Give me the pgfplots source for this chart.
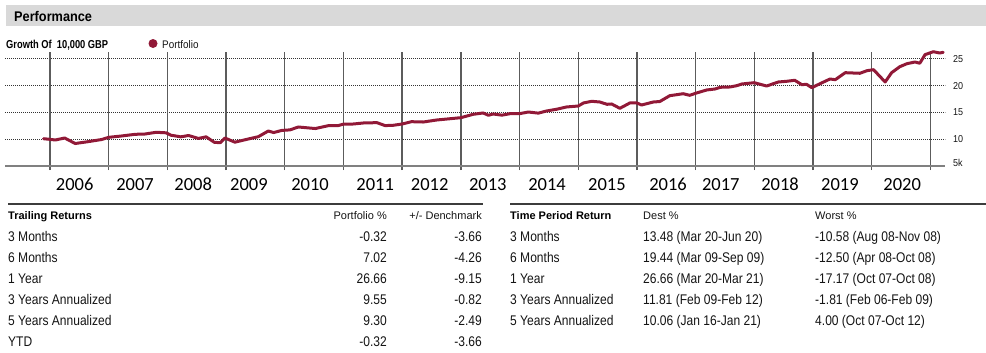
\documentclass[border=0pt]{standalone}
\usepackage{pgfplots}
\pgfplotsset{compat=1.18}
\usepackage{fontspec}
\setmainfont{Liberation Sans}
\newfontfamily\narA[FakeStretch=0.86]{Liberation Sans}
\newfontfamily\narB[FakeStretch=0.91]{Liberation Sans}
\newfontfamily\narC[FakeStretch=0.81]{Liberation Sans}
\newfontfamily\narD[FakeStretch=0.9]{Liberation Sans}
\newfontfamily\calfont{Carlito}
\definecolor{perf}{RGB}{145,25,55}
\definecolor{hbar}{RGB}{217,217,217}
\definecolor{txt}{RGB}{20,20,20}
\definecolor{vgrid}{RGB}{92,92,92}
\definecolor{rule}{RGB}{60,60,60}
\pgfplotstableread{
x y
2005.89 10.10
2005.98 10.00
2006.09 9.86
2006.25 10.23
2006.43 9.20
2006.65 9.55
2006.88 9.95
2007.00 10.36
2007.22 10.61
2007.45 10.92
2007.62 10.98
2007.81 11.30
2007.98 11.20
2008.06 10.75
2008.23 10.45
2008.36 10.70
2008.53 10.15
2008.66 10.45
2008.80 9.43
2008.90 9.35
2008.98 10.23
2009.15 9.45
2009.38 10.05
2009.55 10.48
2009.72 11.54
2009.81 11.25
2009.95 11.65
2010.09 11.75
2010.23 12.29
2010.52 12.00
2010.74 12.53
2010.91 12.55
2011.00 12.82
2011.17 12.85
2011.34 13.04
2011.57 13.10
2011.71 12.55
2011.85 12.61
2012.00 12.85
2012.16 13.28
2012.36 13.22
2012.59 13.60
2012.82 13.84
2013.00 14.03
2013.21 14.66
2013.38 14.91
2013.47 14.48
2013.55 14.72
2013.70 14.50
2013.84 14.78
2014.00 14.78
2014.15 15.09
2014.32 14.88
2014.46 15.28
2014.63 15.60
2014.80 16.03
2015.00 16.21
2015.09 16.78
2015.23 17.09
2015.37 16.96
2015.49 16.53
2015.57 16.59
2015.71 15.78
2015.88 16.78
2016.00 16.78
2016.08 16.40
2016.28 16.96
2016.39 17.05
2016.56 18.14
2016.79 18.51
2016.90 18.21
2017.00 18.59
2017.19 19.21
2017.33 19.39
2017.42 19.71
2017.59 19.77
2017.70 20.01
2017.79 20.33
2018.00 20.57
2018.21 19.95
2018.41 20.70
2018.55 20.83
2018.69 21.02
2018.81 20.20
2018.89 20.27
2018.98 19.64
2019.12 20.38
2019.29 21.26
2019.38 21.13
2019.55 22.44
2019.80 22.33
2019.92 22.81
2020.03 23.00
2020.09 22.33
2020.23 20.70
2020.34 22.44
2020.48 23.56
2020.60 24.12
2020.74 24.44
2020.82 24.20
2020.91 25.81
2021.05 26.36
2021.16 26.12
2021.22 26.25
}\growth
\begin{document}
\begin{tikzpicture}
\path[use as bounding box] (0,0) rectangle (986bp,-353bp);
% header bar
\fill[hbar] (6bp,-5bp) rectangle (986bp,-26bp);
\node[anchor=base west, inner sep=0pt, text=black] at (14bp,-21.7bp) {\narB\bfseries\fontsize{14bp}{16bp}\selectfont Performance};
% chart title and legend
\node[anchor=base west, inner sep=0pt, text=black] at (6bp,-48bp) {\narC\bfseries\fontsize{11.5bp}{13bp}\selectfont Growth Of\ \ 10,000 GBP};
\fill[perf] (153bp,-43.5bp) circle (4.5bp);
\node[anchor=base west, inner sep=0pt, text=txt] at (162bp,-48bp) {\narD\fontsize{11bp}{13bp}\selectfont Portfolio};
\begin{axis}[
  at={(5bp,-170bp)}, anchor=south west, scale only axis,
  width=940bp, height=118.5bp,
  xmin=2005.233, xmax=2021.25, ymin=4.25, ymax=26.4,
  axis line style={draw=none}, major tick length=0pt,
  clip=false,
  xtick={2006.42,2007.45,2008.44,2009.39,2010.43,2011.54,2012.47,2013.46,2014.47,2015.49,2016.53,2017.43,2018.44,2019.46,2020.52},
  xticklabels={2006,2007,2008,2009,2010,2011,2012,2013,2014,2015,2016,2017,2018,2019,2020},
  xticklabel style={anchor=base, yshift=-20.7bp, inner sep=0pt, text=black, font=\calfont\fontsize{18.5bp}{20bp}\selectfont},
  extra x ticks={2006,2007,2008,2009,2010,2011,2012,2013,2014,2015,2016,2017,2018,2019,2020,2021},
  extra x tick labels={},
  extra x tick style={grid=major, major grid style={solid, vgrid, line width=1.4bp}},
  ytick={10,15,20,25},
  ymajorgrids,
  major grid style={dash pattern=on 1bp off 1bp, line width=1bp, black!80},
  yticklabel pos=right,
  yticklabel style={anchor=west, inner sep=0pt, xshift=8bp, text=txt, font=\narD\fontsize{10bp}{12bp}\selectfont},
  /pgf/number format/assume math mode=true,
  extra y ticks={5}, extra y tick labels={5k},
  extra y tick style={grid=major, major grid style={solid, black!50, line width=1.3bp}, yticklabel style={yshift=3bp}},
]
\addplot[perf, line width=3bp, line join=round, line cap=round] table[x=x, y=y] {\growth};
\end{axis}
% tables
\draw[rule, line width=1.4bp] (8bp,-204bp) -- (483bp,-204bp);
\draw[rule, line width=1.4bp] (510bp,-204bp) -- (986bp,-204bp);
\node[anchor=base west, inner sep=0pt, text=black] at (8bp,-219bp) {\bfseries\fontsize{11bp}{13bp}\selectfont Trailing Returns};
\node[anchor=base east, inner sep=0pt, text=txt] at (387bp,-219bp) {\fontsize{11bp}{13bp}\selectfont Portfolio \%};
\node[anchor=base east, inner sep=0pt, text=txt] at (482bp,-219bp) {\fontsize{11bp}{13bp}\selectfont +/- Denchmark};
\node[anchor=base west, inner sep=0pt, text=black] at (510bp,-219bp) {\bfseries\fontsize{11bp}{13bp}\selectfont Time Period Return};
\node[anchor=base west, inner sep=0pt, text=txt] at (643bp,-219bp) {\fontsize{11bp}{13bp}\selectfont Dest \%};
\node[anchor=base west, inner sep=0pt, text=txt] at (815bp,-219bp) {\fontsize{11bp}{13bp}\selectfont Worst \%};
\foreach \i/\lab/\p/\b in {0/3 Months/-0.32/-3.66, 1/6 Months/7.02/-4.26, 2/1 Year/26.66/-9.15, 3/3 Years Annualized/9.55/-0.82, 4/5 Years Annualized/9.30/-2.49, 5/YTD/-0.32/-3.66}{
  \pgfmathsetmacro{\yy}{-241.5-20.9*\i}
  \node[anchor=base west, inner sep=0pt, text=txt] at (8bp,\yy bp) {\narA\fontsize{14bp}{16bp}\selectfont \lab};
  \node[anchor=base east, inner sep=0pt, text=txt] at (387bp,\yy bp) {\narA\fontsize{14bp}{16bp}\selectfont \p};
  \node[anchor=base east, inner sep=0pt, text=txt] at (482bp,\yy bp) {\narA\fontsize{14bp}{16bp}\selectfont \b};
}
\foreach \i/\lab/\p/\b in {0/3 Months/13.48 (Mar 20-Jun 20)/-10.58 (Aug 08-Nov 08), 1/6 Months/19.44 (Mar 09-Sep 09)/-12.50 (Apr 08-Oct 08), 2/1 Year/26.66 (Mar 20-Mar 21)/-17.17 (Oct 07-Oct 08), 3/3 Years Annualized/11.81 (Feb 09-Feb 12)/-1.81 (Feb 06-Feb 09), 4/5 Years Annualized/10.06 (Jan 16-Jan 21)/4.00 (Oct 07-Oct 12)}{
  \pgfmathsetmacro{\yy}{-241.5-20.9*\i}
  \node[anchor=base west, inner sep=0pt, text=txt] at (510bp,\yy bp) {\narA\fontsize{14bp}{16bp}\selectfont \lab};
  \node[anchor=base west, inner sep=0pt, text=txt] at (643bp,\yy bp) {\narA\fontsize{14bp}{16bp}\selectfont \p};
  \node[anchor=base west, inner sep=0pt, text=txt] at (815bp,\yy bp) {\narA\fontsize{14bp}{16bp}\selectfont \b};
}
\end{tikzpicture}
\end{document}
